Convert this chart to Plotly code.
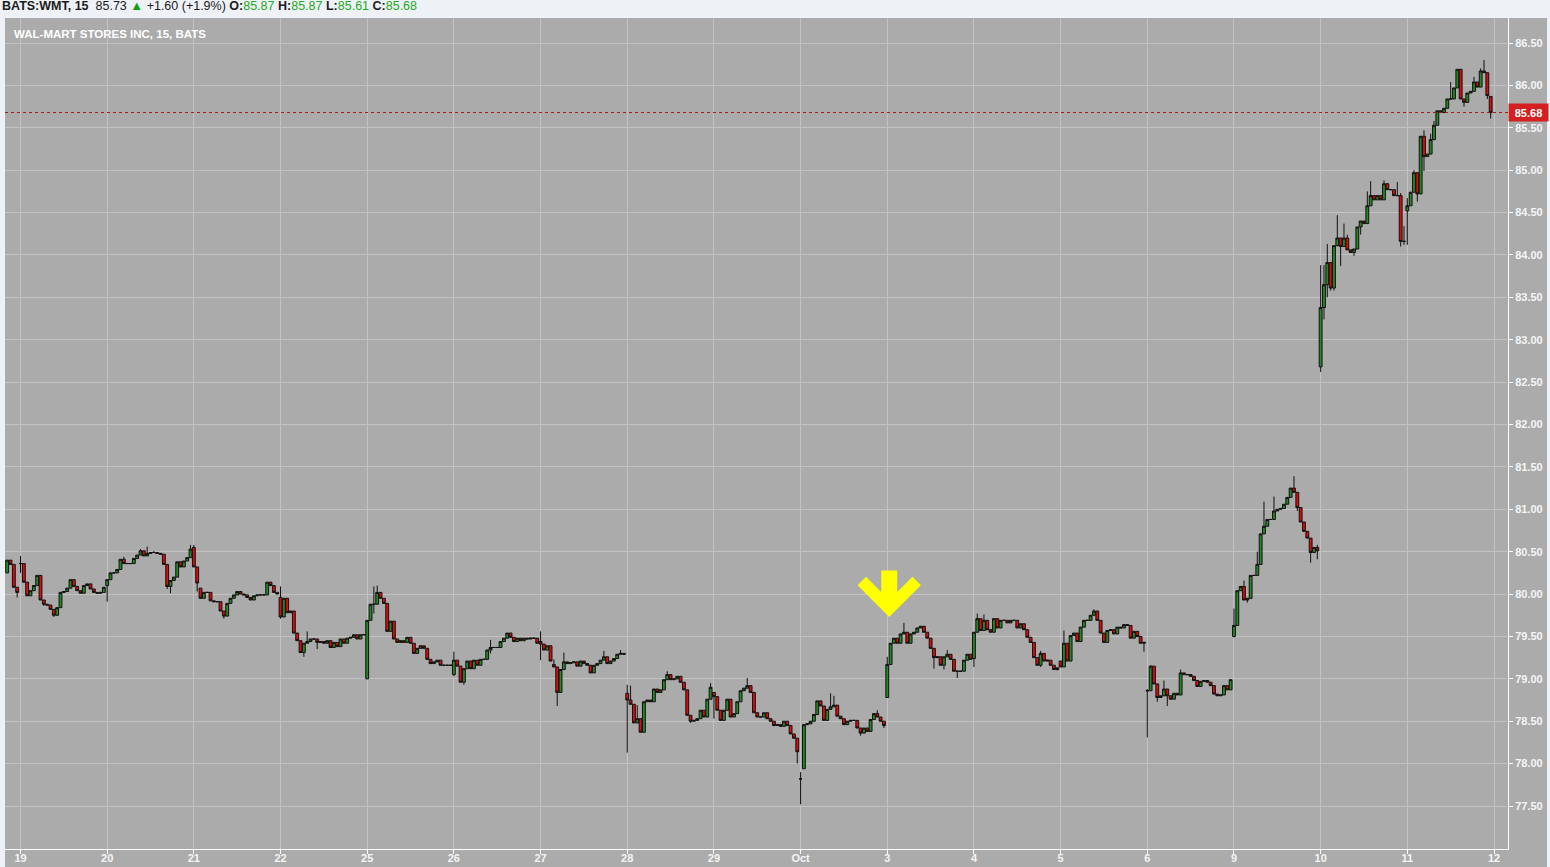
import plotly.graph_objects as go

# ---------------- data ----------------
DAY_LABELS = ["19", "20", "21", "22", "25", "26", "27", "28", "29", "Oct",
              "3", "4", "5", "6", "9", "10", "11", "12"]
BARS_PER_DAY = 26

PRE_OPEN = 80.25                      # tail of the previous session (Sep 18)
PRE_CLOSE = [80.40, 80.35, 80.08, 80.02]

DAY_OPEN = [80.36, 80.10, 80.55, 79.96, 79.00, 79.05, 79.44, 78.83, 78.84,
            77.82, 78.78, 79.24, 79.21, 78.86, 79.50, 82.68, 84.52]

C_SEP19 = [80.36, 80.14, 79.98, 80.04, 80.10, 80.22, 79.93, 79.88, 79.87, 79.82, 79.75, 79.84, 80.02,
           80.03, 80.07, 80.17, 80.09, 80.04, 80.01, 80.10, 80.12, 80.06, 80.02, 80.01, 80.02, 80.08]
C_SEP20 = [80.17, 80.25, 80.25, 80.29, 80.41, 80.36, 80.36, 80.36, 80.42, 80.46, 80.51, 80.45, 80.48,
           80.49, 80.49, 80.48, 80.47, 80.35, 80.09, 80.16, 80.20, 80.38, 80.32, 80.39, 80.43, 80.53]
C_SEP21 = [80.32, 80.13, 79.95, 80.02, 80.02, 79.92, 79.91, 79.91, 79.80, 79.74, 79.89, 79.95, 79.99,
           80.03, 80.00, 79.99, 79.96, 79.93, 79.98, 79.99, 79.99, 79.99, 80.14, 80.10, 80.02, 80.00]
C_SEP22 = [79.73, 79.95, 79.78, 79.80, 79.54, 79.45, 79.31, 79.42, 79.44, 79.47, 79.47, 79.43, 79.44,
           79.42, 79.45, 79.37, 79.43, 79.38, 79.47, 79.42, 79.48, 79.49, 79.52, 79.47, 79.52, 79.52]
C_SEP25 = [79.69, 79.88, 79.88, 80.02, 79.95, 79.89, 79.56, 79.68, 79.47, 79.43, 79.45, 79.43, 79.49,
           79.42, 79.30, 79.36, 79.39, 79.36, 79.23, 79.18, 79.20, 79.22, 79.16, 79.16, 79.16, 79.16]
C_SEP26 = [79.22, 79.15, 78.96, 79.12, 79.21, 79.12, 79.22, 79.16, 79.23, 79.23, 79.34, 79.37, 79.37,
           79.37, 79.44, 79.48, 79.54, 79.49, 79.44, 79.48, 79.45, 79.48, 79.47, 79.48, 79.48, 79.42]
C_SEP27 = [79.41, 79.34, 79.39, 79.21, 79.14, 78.84, 79.11, 79.20, 79.18, 79.19, 79.20, 79.15, 79.21,
           79.18, 79.16, 79.07, 79.16, 79.18, 79.22, 79.26, 79.18, 79.21, 79.24, 79.29, 79.30, 79.29]
C_SEP28 = [78.75, 78.70, 78.48, 78.53, 78.37, 78.73, 78.75, 78.73, 78.88, 78.84, 78.87, 78.99, 79.05,
           78.99, 79.00, 79.03, 78.96, 78.87, 78.57, 78.50, 78.51, 78.53, 78.63, 78.55, 78.76, 78.90]
C_SEP29 = [78.79, 78.63, 78.51, 78.63, 78.76, 78.55, 78.59, 78.73, 78.86, 78.89, 78.92, 78.84, 78.60,
           78.55, 78.55, 78.60, 78.53, 78.50, 78.45, 78.46, 78.44, 78.50, 78.45, 78.35, 78.30, 78.14]
C_OCT02 = [77.82, 78.46, 78.47, 78.50, 78.58, 78.74, 78.68, 78.51, 78.64, 78.67, 78.69, 78.56, 78.53,
           78.46, 78.50, 78.51, 78.51, 78.42, 78.36, 78.42, 78.38, 78.52, 78.59, 78.55, 78.50, 78.45]
C_OCT03 = [79.17, 79.42, 79.48, 79.42, 79.53, 79.55, 79.42, 79.53, 79.55, 79.60, 79.62, 79.55, 79.48,
           79.36, 79.25, 79.26, 79.16, 79.26, 79.29, 79.23, 79.09, 79.09, 79.09, 79.22, 79.29, 79.23]
C_OCT04 = [79.55, 79.71, 79.57, 79.69, 79.58, 79.55, 79.71, 79.60, 79.69, 79.69, 79.66, 79.69, 79.69,
           79.60, 79.65, 79.58, 79.49, 79.43, 79.25, 79.16, 79.30, 79.21, 79.22, 79.16, 79.11, 79.13]
C_OCT05 = [79.14, 79.42, 79.21, 79.51, 79.54, 79.44, 79.61, 79.69, 79.69, 79.75, 79.80, 79.69, 79.54,
           79.43, 79.57, 79.58, 79.53, 79.61, 79.60, 79.64, 79.63, 79.48, 79.56, 79.50, 79.42, 79.43]
C_OCT06 = [78.86, 79.15, 78.94, 78.78, 78.80, 78.88, 78.80, 78.76, 78.83, 78.81, 79.07, 79.05, 79.05,
           79.03, 78.98, 78.91, 78.97, 78.98, 78.96, 78.92, 78.82, 78.80, 78.81, 78.92, 78.87, 78.99]
C_OCT09 = [79.63, 80.04, 80.09, 79.93, 79.95, 80.22, 80.22, 80.35, 80.71, 80.80, 80.88, 80.88, 80.98,
           81.00, 81.01, 81.06, 81.14, 81.25, 81.20, 81.02, 80.85, 80.74, 80.66, 80.49, 80.55, 80.51]
C_OCT10 = [83.38, 83.65, 83.91, 83.61, 84.11, 84.20, 84.10, 84.20, 84.06, 84.03, 84.07, 84.33, 84.40,
           84.37, 84.58, 84.70, 84.65, 84.70, 84.65, 84.84, 84.77, 84.77, 84.70, 84.70, 84.16, 84.16]
C_OCT11 = [84.58, 84.74, 84.97, 84.72, 85.40, 85.16, 85.19, 85.36, 85.53, 85.70, 85.68, 85.73, 85.84,
           85.84, 85.97, 86.19, 85.84, 85.80, 85.91, 85.93, 86.04, 85.98, 86.17, 86.15, 85.88, 85.68]

DAY_CLOSES = [C_SEP19, C_SEP20, C_SEP21, C_SEP22, C_SEP25, C_SEP26, C_SEP27, C_SEP28, C_SEP29,
              C_OCT02, C_OCT03, C_OCT04, C_OCT05, C_OCT06, C_OCT09, C_OCT10, C_OCT11]

# visible wick extremes, keyed by bar number (0 = first bar of Sep 19)
WICK_HIGH = {0: 80.45, 31: 80.44, 36: 80.53, 38: 80.56, 40: 80.51, 51: 80.58, 52: 80.58, 78: 80.09,
             86: 79.56, 106: 80.09, 107: 80.10, 130: 79.32, 141: 79.46, 156: 79.56, 160: 79.23,
             163: 79.31, 175: 79.33, 180: 79.34, 182: 78.93, 183: 78.92, 185: 78.69, 194: 79.09,
             207: 78.95, 218: 79.01, 234: 77.90, 243: 78.83, 244: 78.80, 257: 78.63, 260: 79.26,
             265: 79.66, 278: 79.34, 287: 79.77, 289: 79.76, 306: 79.33, 313: 79.57, 322: 79.82,
             338: 78.88, 339: 79.16, 343: 78.98, 348: 79.11, 364: 79.83, 367: 80.16, 371: 80.50,
             373: 81.09, 376: 81.15, 382: 81.39, 389: 80.58, 390: 83.88, 391: 83.88, 392: 84.13,
             395: 84.47, 397: 84.37, 398: 84.24, 404: 84.75, 405: 84.87, 409: 84.88, 413: 84.86,
             414: 84.73, 415: 84.34, 416: 84.67, 418: 85.00, 421: 85.47, 423: 85.43, 424: 85.58,
             429: 86.04, 436: 86.10, 438: 86.20, 439: 86.30, 441: 85.87}
WICK_LOW = {-1: 79.96, 0: 80.25, 7: 79.86, 10: 79.73, 26: 79.91, 44: 80.06, 45: 80.01, 53: 80.03,
            61: 79.71, 78: 79.71, 85: 79.26, 89: 79.35, 106: 79.77, 130: 79.03, 133: 78.93,
            141: 79.30, 156: 79.22, 161: 78.68, 182: 78.13, 201: 78.48, 208: 78.53, 226: 78.44,
            233: 78.00, 234: 77.52, 252: 78.33, 259: 78.42, 274: 79.12, 277: 79.11, 281: 79.01,
            286: 79.14, 306: 79.14, 311: 79.10, 337: 79.32, 338: 78.31, 341: 78.73, 344: 78.68,
            364: 79.49, 368: 79.90, 383: 80.98, 387: 80.37, 389: 80.41, 390: 82.62, 391: 83.24,
            392: 83.50, 393: 83.58, 394: 83.58, 396: 83.87, 400: 83.99, 402: 84.24, 404: 84.50,
            414: 84.10, 415: 84.12, 416: 84.12, 419: 84.63, 421: 84.99, 433: 85.75, 440: 85.84,
            441: 85.61}
OPEN_FIX = {54: 80.07, 160: 79.17, 235: 77.94, 441: 85.87}

Y_TICKS = [77.5, 78.0, 78.5, 79.0, 79.5, 80.0, 80.5, 81.0, 81.5, 82.0,
           82.5, 83.0, 83.5, 84.0, 84.5, 85.0, 85.5, 86.0, 86.5]

GREEN_TXT = "<span style='color:#22aa22'>%s</span>"
HEADER = ("<b>BATS:WMT, 15</b>  85.73 <span style='color:#14a014;font-size:13px'>▲</span> +1.60 (+1.9%) "
          "<b>O:</b>" + GREEN_TXT % "85.87" + " <b>H:</b>" + GREEN_TXT % "85.87" +
          " <b>L:</b>" + GREEN_TXT % "85.61" + " <b>C:</b>" + GREEN_TXT % "85.68")
TITLE = "WAL-MART STORES INC, 15, BATS"
ARROW_BAR = 260        # Oct 3 open, marked with the yellow arrow
ARROW_TIP_PRICE = 79.73

# ---------------- build OHLC ----------------
xs, o, h, l, c = [], [], [], [], []


def add_bar(idx, op, cl):
    op = OPEN_FIX.get(idx, op)
    xs.append(idx)
    o.append(op)
    c.append(cl)
    h.append(max(op, cl, WICK_HIGH.get(idx, cl)))
    l.append(min(op, cl, WICK_LOW.get(idx, cl)))


for j, cl in enumerate(PRE_CLOSE):
    add_bar(j - len(PRE_CLOSE), PRE_OPEN if j == 0 else PRE_CLOSE[j - 1], cl)
for d, (op0, closes) in enumerate(zip(DAY_OPEN, DAY_CLOSES)):
    for j, cl in enumerate(closes):
        add_bar(d * BARS_PER_DAY + j, op0 if j == 0 else closes[j - 1], cl)

# ---------------- figure ----------------
W, H = 1550, 867
PL, PR, PT, PB = 5, 1508, 18, 849
PW, PH = PR - PL, PB - PT
BG = "#ababab"
LIGHT = "#eef1f6"
GRID = "#c2c2c2"


def xp(px):
    return (px - PL) / PW


def yp(py):
    return (PB - py) / PH


fig = go.Figure(go.Candlestick(
    x=xs, open=o, high=h, low=l, close=c,
    increasing=dict(fillcolor="#238a23", line=dict(color="#111111", width=1)),
    decreasing=dict(fillcolor="#e00a0a", line=dict(color="#111111", width=1)),
    whiskerwidth=0, hoverinfo="skip", showlegend=False,
))

tick_font = dict(family="Liberation Sans, Arial, sans-serif", size=11, color="#f5f5f5", weight="bold")

fig.update_layout(
    width=W, height=H,
    margin=dict(l=PL, r=W - PR, t=PT, b=H - PB, pad=0, autoexpand=False),
    paper_bgcolor=BG, plot_bgcolor=BG,
    boxgap=0.15, boxgroupgap=0,
    hovermode=False,
    xaxis=dict(
        range=[-4.65, 446.2],
        tickmode="array",
        tickvals=[k * BARS_PER_DAY for k in range(len(DAY_LABELS))],
        ticktext=DAY_LABELS,
        showgrid=True, gridcolor=GRID, gridwidth=1,
        showline=True, linecolor="#ffffff", linewidth=1,
        ticks="outside", ticklen=4, tickcolor="#ffffff", ticklabelstandoff=-5,
        tickfont=tick_font, zeroline=False, automargin=False,
        rangeslider=dict(visible=False), fixedrange=True,
    ),
    yaxis=dict(
        side="right",
        range=[76.993, 86.795],
        tickmode="array", tickvals=Y_TICKS, tickformat=".2f",
        showgrid=True, gridcolor=GRID, gridwidth=1,
        showline=True, linecolor="#ffffff", linewidth=1,
        ticks="outside", ticklen=4, tickcolor="#ffffff",
        tickfont=tick_font, zeroline=False, automargin=False, fixedrange=True,
    ),
)

last_close = c[-1]
fig.add_shape(type="line", xref="paper", yref="y", x0=0, x1=1, y0=last_close, y1=last_close,
              line=dict(color="#a01c1c", width=1, dash="dot"), layer="above")

# light page strips around the chart panel
for x0, x1, y0, y1 in [(xp(0), xp(W), yp(PT), yp(0)),
                       (xp(0), xp(PL), yp(H), yp(PT)),
                       (xp(1547), xp(W), yp(H), yp(PT))]:
    fig.add_shape(type="rect", xref="paper", yref="paper", x0=x0, x1=x1, y0=y0, y1=y1,
                  fillcolor=LIGHT, line=dict(width=0), layer="above")

fig.add_annotation(xref="paper", yref="paper", x=xp(0), y=yp(5.5), xanchor="left", yanchor="middle",
                   text=HEADER, showarrow=False,
                   font=dict(family="Liberation Sans, Arial, sans-serif", size=12.5, color="#1c1c1c"))
fig.add_annotation(xref="paper", yref="paper", x=xp(12), y=yp(34), xanchor="left", yanchor="middle",
                   text=TITLE, showarrow=False,
                   font=dict(family="Liberation Sans, Arial, sans-serif", size=11.5, color="#ffffff",
                             weight="bold"))
fig.add_annotation(xref="paper", yref="y", x=1, y=last_close, xanchor="left", yanchor="middle",
                   text="<b>%.2f</b>" % last_close, showarrow=False,
                   bgcolor="#d42020", width=35, height=13, borderpad=2,
                   font=dict(family="Liberation Sans, Arial, sans-serif", size=11, color="#ffffff"))
fig.add_annotation(x=ARROW_BAR, y=ARROW_TIP_PRICE, xref="x", yref="y", text="",
                   showarrow=True, arrowhead=4, arrowwidth=16, arrowsize=0.66,
                   arrowcolor="#ffff00", ax=0, ay=-48, xshift=2, standoff=0)

fig.write_html("out.html", config={"displayModeBar": False},
               post_script="document.body.style.margin='0px';document.body.style.overflow='hidden';")
